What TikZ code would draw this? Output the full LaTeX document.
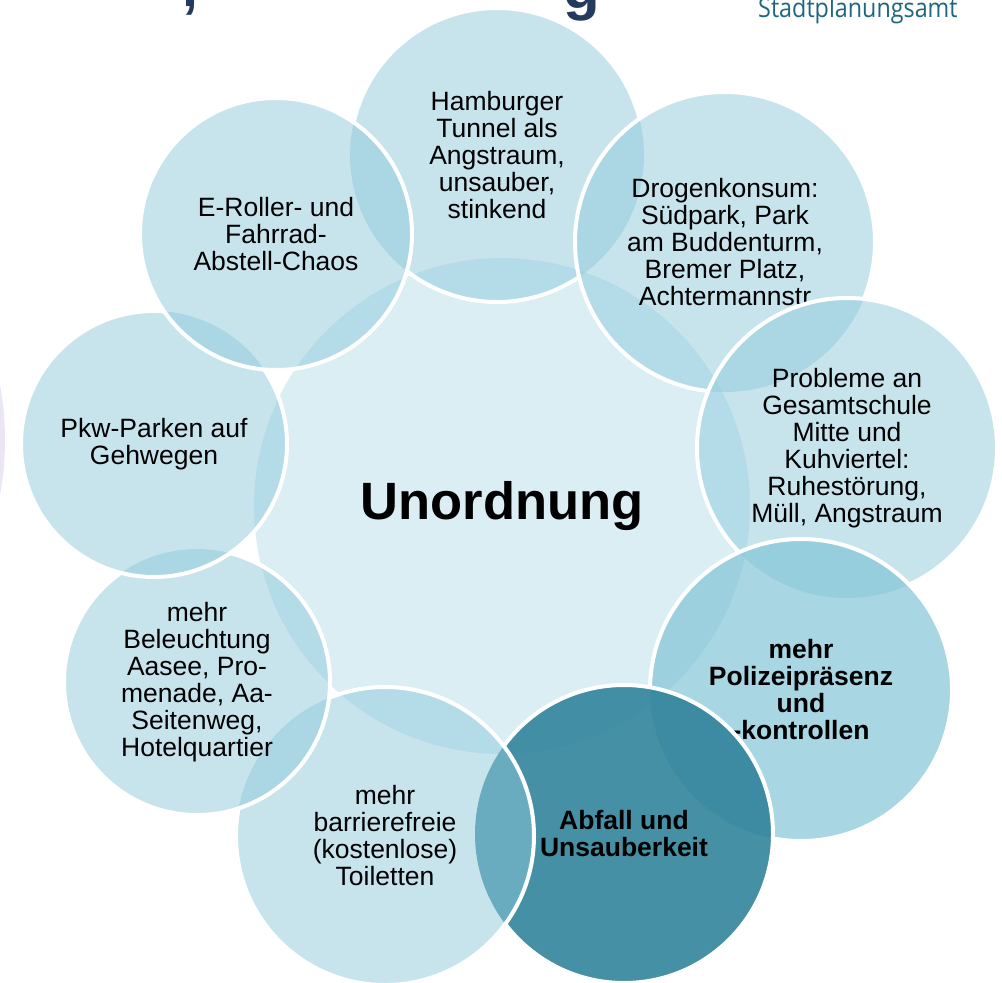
\documentclass[tikz,border=0pt]{standalone}
\usepackage{fontspec}
\setmainfont{Liberation Sans}
\newfontfamily\officefont[FakeStretch=0.88]{Open Sans}
\usetikzlibrary{positioning}

\definecolor{ringblue}{RGB}{143,202,220}
\definecolor{policeblue}{RGB}{131,196,215}
\definecolor{wasteteal}{RGB}{49,132,155}
\definecolor{titlenavy}{RGB}{36,59,94}
\definecolor{officeteal}{RGB}{30,104,126}
\definecolor{lavender}{RGB}{236,230,244}

\newcommand{\bubblefont}{\fontsize{26.5}{27}\selectfont}

\begin{document}
\begin{tikzpicture}[x=1pt, y=-1pt,
    bubble/.style={circle, inner sep=0pt, fill=ringblue, fill opacity=0.5, text opacity=1, font=\bubblefont, align=center},
    rim/.style={draw=white, line width=4pt},
    hide/.style={even odd rule}
  ]
  \useasboundingbox (0,0) rectangle (1002,983);
  \clip (0,0) rectangle (1002,983);

  % slide rests
  \fill[lavender] (-300,440) circle[radius=305pt];
  \node[anchor=base, font=\fontsize{57}{60}\selectfont\bfseries, text=titlenavy] (comma) at (190,6) {,};
  \node[anchor=base, font=\fontsize{60}{60}\selectfont\bfseries, text=titlenavy] (gee) at (582,8) {g};
  \node[anchor=base west, inner sep=0pt, font=\officefont\fontsize{26.5}{28}\selectfont, text=officeteal] (office) at (758,17) {Stadtplanungsamt};

  % centre
  \node[bubble, fill opacity=0.33, minimum size=496pt, font=\fontsize{52.5}{60}\selectfont\bfseries] (unordnung) at (502,506) {Unordnung};

  % Hamburger Tunnel
  \node[bubble, minimum size=294pt] (tunnel) at (497,155) {Hamburger\\Tunnel als\\Angstraum,\\unsauber,\\stinkend};
  \begin{scope}[hide]
    \clip (0,0) rectangle (1002,983) (725,242) circle[radius=150pt];
    \clip (0,0) rectangle (1002,983) (276,234) circle[radius=136pt];
    \draw[rim] (tunnel.center) circle[radius=147pt];
  \end{scope}

  % Drogenkonsum
  \node[bubble, minimum size=300pt] (drogen) at (725,242) {Drogenkonsum:\\S\"udpark, Park\\am Buddenturm,\\Bremer Platz,\\Achtermannstr};
  \begin{scope}[hide]
    \clip (0,0) rectangle (1002,983) (847,448) circle[radius=150pt];
    \draw[rim] (drogen.center) circle[radius=150pt];
  \end{scope}

  % Gesamtschule
  \node[bubble, minimum size=300pt] (schule) at (847,448) {Probleme an\\Gesamtschule\\Mitte und\\Kuhviertel:\\Ruhest\"orung,\\M\"ull, Angstraum};
  \begin{scope}[hide]
    \clip (0,0) rectangle (1002,983) (801,690) circle[radius=151pt];
    \draw[rim] (schule.center) circle[radius=150pt];
  \end{scope}

  % Polizei
  \node[bubble, fill=policeblue, fill opacity=0.7, minimum size=302pt, font=\bubblefont\bfseries] (polizei) at (801,690) {mehr\\Polizeipr\"asenz\\und\\-kontrollen};
  \begin{scope}[hide]
    \clip (0,0) rectangle (1002,983) (624,834) circle[radius=149pt];
    \draw[rim] (polizei.center) circle[radius=151pt];
  \end{scope}

  % Abfall
  \node[bubble, fill=wasteteal, fill opacity=0.9, minimum size=298pt, font=\bubblefont\bfseries] (abfall) at (624,834) {Abfall und\\Unsauberkeit};
  \begin{scope}[hide]
    \clip (0,0) rectangle (1002,983) (385,836) circle[radius=149pt];
    \draw[rim] (abfall.center) circle[radius=149pt];
  \end{scope}

  % Toiletten
  \node[bubble, minimum size=298pt] (toiletten) at (385,836) {mehr\\barrierefreie\\(kostenlose)\\Toiletten};
  \begin{scope}[hide]
    \clip (0,0) rectangle (1002,983) (197,682) circle[radius=133pt];
    \draw[rim] (toiletten.center) circle[radius=149pt];
  \end{scope}

  % Beleuchtung
  \node[bubble, minimum size=266pt] (licht) at (197,682) {mehr\\Beleuchtung\\Aasee, Pro-\\menade, Aa-\\Seitenweg,\\Hotelquartier};
  \begin{scope}[hide]
    \clip (0,0) rectangle (1002,983) (154,444) circle[radius=133pt];
    \draw[rim] (licht.center) circle[radius=133pt];
  \end{scope}

  % Pkw
  \node[bubble, minimum size=266pt] (pkw) at (154,444) {Pkw-Parken auf\\Gehwegen};
  \begin{scope}[hide]
    \clip (0,0) rectangle (1002,983) (276,234) circle[radius=136pt];
    \draw[rim] (pkw.center) circle[radius=133pt];
  \end{scope}

  % E-Roller
  \node[bubble, minimum size=272pt] (roller) at (276,234) {E-Roller- und\\Fahrrad-\\Abstell-Chaos};
  \draw[rim] (roller.center) circle[radius=136pt];
\end{tikzpicture}
\end{document}
